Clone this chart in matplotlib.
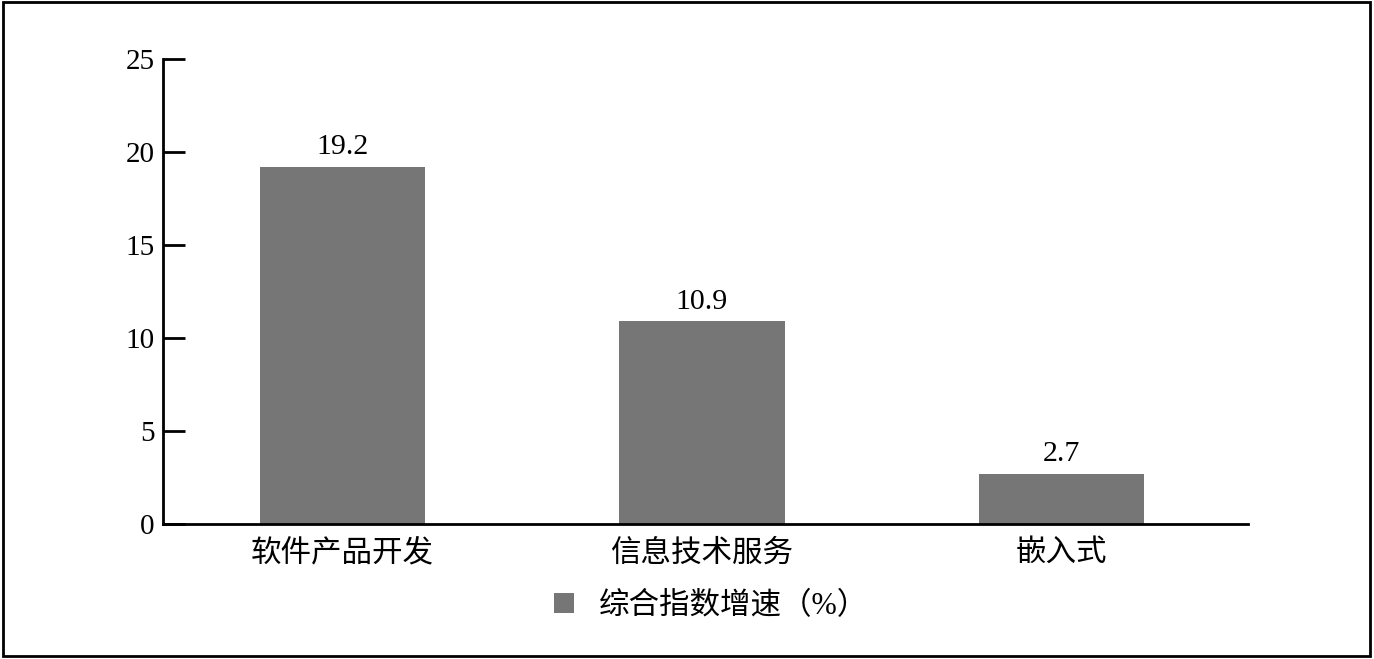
import matplotlib
matplotlib.use("Agg")
from matplotlib import pyplot as plt
from matplotlib.patches import Rectangle

##########
# Data   #
##########

categories = ["软件产品开发", "信息技术服务", "嵌入式"]
values = [19.2, 10.9, 2.7]
series_name = "综合指数增速（%）"
yticks = [0, 5, 10, 15, 20, 25]

##########
# Script #
##########

plt.rcParams['font.family'] = ['Liberation Serif', 'Noto Sans CJK SC']
bar_color = "#767676"

fig = plt.figure(figsize=(13.74, 6.59), dpi=100)
ax = fig.add_axes([0.1186, 0.2049, 0.7897, 0.7056])

x = range(len(categories))
bars = ax.bar(x, values, width=0.46, color=bar_color, label=series_name)
for b, v in zip(bars, values):
    ax.text(b.get_x() + b.get_width() / 2, v + 0.35, f"{v}",
            ha="center", va="bottom", fontsize=21.5)

ax.set_xlim(-0.5, 2.52)
ax.set_ylim(0, 25)
ax.set_yticks(yticks)
ax.set_xticks(list(x))
ax.set_xticklabels(categories, fontsize=22)
ax.tick_params(axis="y", direction="in", length=16, width=2, labelsize=21, pad=6)
ax.tick_params(axis="x", length=0, pad=11)
for s in ["top", "right"]:
    ax.spines[s].set_visible(False)
for s in ["left", "bottom"]:
    ax.spines[s].set_linewidth(2)

ax.legend(loc="upper center", bbox_to_anchor=(0.505, -0.1), frameon=False,
          fontsize=22, handlelength=0.65, handleheight=0.65, handletextpad=0.8,
          borderpad=0.2)

# frame around whole figure
fig.patches.append(Rectangle((0.002, 0.004), 0.995, 0.993, transform=fig.transFigure,
                             fill=False, edgecolor="black", linewidth=2))

fig.savefig("out.png", dpi=100)
